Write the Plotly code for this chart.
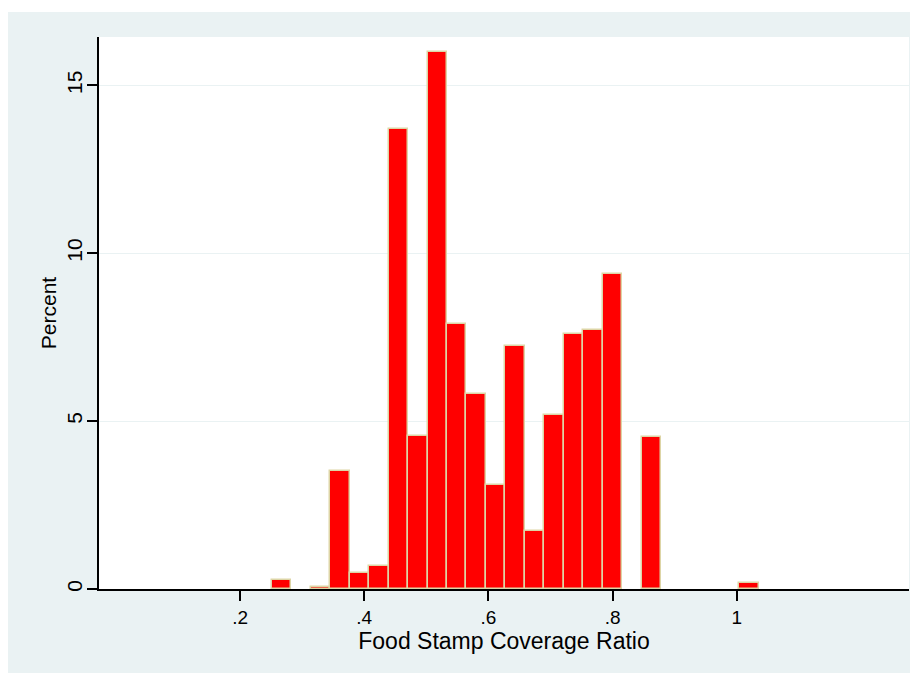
import plotly.graph_objects as go

# Histogram data
bin_start = 0.2511
bin_width = 0.03136
percent = [0.27, 0.0, 0.05, 3.52, 0.49, 0.68, 13.70, 4.57, 16.0, 7.88,
           5.82, 3.09, 7.24, 1.73, 5.17, 7.60, 7.70, 9.39, 0.0, 4.53,
           0.0, 0.0, 0.0, 0.0, 0.17]
x_tickvals = [0.2, 0.4, 0.6, 0.8, 1.0]
x_ticktext = [".2", ".4", ".6", ".8", "1"]
y_tickvals = [0, 5, 10, 15]
y_ticktext = ["0", "5", "10", "15"]

centers = [bin_start + (i + 0.5) * bin_width for i in range(len(percent))]
# empty bins are not drawn
shown = [p if p > 0 else None for p in percent]

BG = "#EAF2F3"
FONT = "Liberation Sans, Arial, sans-serif"

fig = go.Figure()
fig.add_trace(go.Bar(
    x=centers, y=shown, width=bin_width,
    marker=dict(color="#FF0000", line=dict(color="#DDD5A6", width=1.5)),
    showlegend=False, hoverinfo="x+y",
))

fig.update_layout(
    width=910, height=665,
    margin=dict(l=91, r=9, t=29, b=84),
    paper_bgcolor=BG, plot_bgcolor="white",
    font=dict(family=FONT, color="black", size=19),
    bargap=0,
    xaxis=dict(
        range=[-0.0272, 1.2775], tickvals=x_tickvals, ticktext=x_ticktext,
        ticks="outside", ticklen=10, tickwidth=1.5, tickcolor="black",
        showline=True, linecolor="black", linewidth=1.5,
        showgrid=False, zeroline=False,
        tickfont=dict(size=19),
        title=dict(text="Food Stamp Coverage Ratio", font=dict(size=23), standoff=2),
    ),
    yaxis=dict(
        range=[0, 16.44], tickvals=y_tickvals, ticktext=y_ticktext,
        ticks="outside", ticklen=10, tickwidth=1.5, tickcolor="black",
        tickangle=-90, ticklabelstandoff=-3,
        showline=True, linecolor="black", linewidth=1.5,
        showgrid=True, gridcolor=BG, gridwidth=1.2, zeroline=False,
        tickfont=dict(size=21),
        title=dict(text="Percent", font=dict(size=21), standoff=0),
    ),
    shapes=[
        dict(type="rect", xref="paper", yref="paper", x0=-0.2, x1=1.2,
             y0=1 + (29 - 4) / 552, y1=1.2, fillcolor="white",
             line=dict(width=0), layer="below"),
    ],
)

fig.write_html("out.html")
